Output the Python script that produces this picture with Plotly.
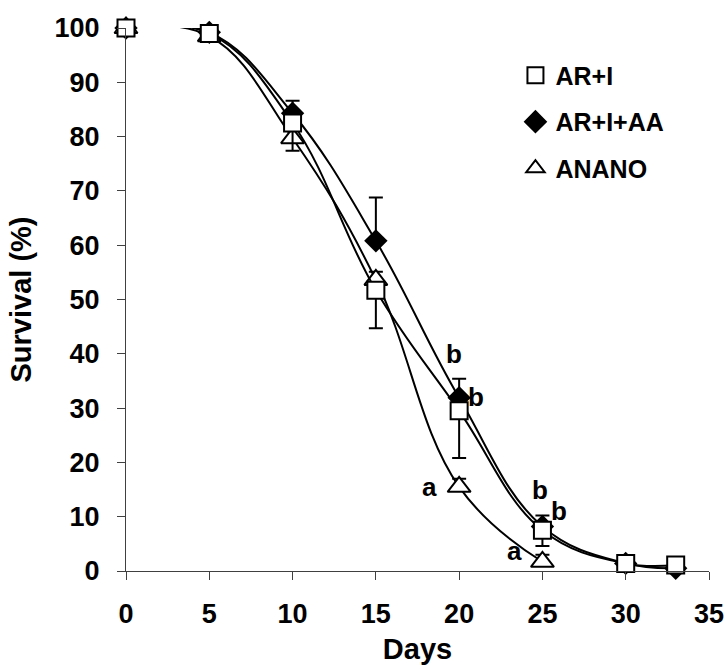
import plotly.graph_objects as go

days = [0, 5, 10, 15, 20, 25, 30, 33]
ar_i = [100, 99.0, 82.5, 51.7, 29.5, 7.5, 1.4, 1.1]
ar_i_err_minus = [0, 0, 5.1, 7.0, 8.7, 2.9, 0, 0]
ar_i_aa = [100, 99.2, 84.3, 60.8, 31.9, 8.2, 1.4, 0.5]
ar_i_aa_err_plus = [0, 0, 2.3, 8.0, 3.5, 2.0, 0, 0]
anano_days = [0, 5, 10, 15, 20, 25]
anano = [100, 98.5, 79.7, 53.6, 15.5, 1.7]
anano_err_plus = [0, 0, 1.5, 1.5, 1.5, 1.3]

letters = ["b", "b", "a", "b", "b", "a"]
letter_x = [19.7, 21.0, 18.25, 24.85, 26.0, 23.35]
letter_y = [40.0, 32.1, 15.5, 14.9, 11.0, 3.6]

FONT = "Liberation Sans, Arial, sans-serif"
line = dict(color="black", width=2, shape="spline", smoothing=1.15)

fig = go.Figure()
fig.add_trace(go.Scatter(
    x=anano_days, y=anano, mode="lines+markers", line=line, showlegend=False,
    marker=dict(symbol="triangle-up", size=20, color="white", line=dict(width=2, color="black")),
    error_y=dict(type="data", symmetric=False, array=anano_err_plus,
                 arrayminus=[0] * len(anano), color="black", thickness=2, width=7),
    cliponaxis=False))
fig.add_trace(go.Scatter(
    x=days, y=ar_i_aa, mode="lines+markers", line=line, showlegend=False,
    marker=dict(symbol="diamond", size=18, color="black", line=dict(width=0)),
    error_y=dict(type="data", symmetric=False, array=ar_i_aa_err_plus,
                 arrayminus=[0] * len(days), color="black", thickness=2, width=7),
    cliponaxis=False))
fig.add_trace(go.Scatter(
    x=days, y=ar_i, mode="lines+markers", line=line, showlegend=False,
    marker=dict(symbol="square", size=17, color="white", line=dict(width=2, color="black")),
    error_y=dict(type="data", symmetric=False, array=[0] * len(days),
                 arrayminus=ar_i_err_minus, color="black", thickness=2, width=7),
    cliponaxis=False))

# legend entries (markers only)
for i, (name, sym, col) in enumerate([("AR+I", "square", "white"),
                                      ("AR+I+AA", "diamond", "black"),
                                      ("ANANO", "triangle-up", "white")]):
    fig.add_trace(go.Scatter(
        x=[None], y=[None], mode="markers", name=name, legendgroup=str(i),
        marker=dict(symbol=sym, size=16, color=col, line=dict(width=2, color="black"))))

for t, xx, yy in zip(letters, letter_x, letter_y):
    fig.add_annotation(x=xx, y=yy, text=t, showarrow=False,
                       font=dict(family=FONT, size=26, color="black", weight="bold"))

axis_common = dict(showline=True, linecolor="#404040", linewidth=1, ticks="outside",
                   ticklen=8, tickcolor="#404040", showgrid=False, zeroline=False,
                   automargin=False,
                   tickfont=dict(family=FONT, size=27, color="black", weight="bold"))

fig.update_layout(
    width=727, height=665,
    margin=dict(l=126, r=18, t=28, b=94),
    plot_bgcolor="white", paper_bgcolor="white",
    xaxis=dict(range=[0, 35], tickvals=[0, 5, 10, 15, 20, 25, 30, 35],
               ticklabelstandoff=11,
               title=dict(text="Days", standoff=26,
                          font=dict(family=FONT, size=29, color="black", weight="bold")),
               **axis_common),
    yaxis=dict(range=[0, 100], tickvals=list(range(0, 101, 10)),
               ticklabelstandoff=12,
               title=dict(text="Survival (%)", standoff=14,
                          font=dict(family=FONT, size=29, color="black", weight="bold")),
               **axis_common),
    legend=dict(x=0.668, y=0.955, xanchor="left", yanchor="top",
                traceorder="grouped", tracegroupgap=11,
                bgcolor="rgba(0,0,0,0)",
                font=dict(family=FONT, size=25, color="black", weight="bold")),
)

fig.write_html("out.html")
